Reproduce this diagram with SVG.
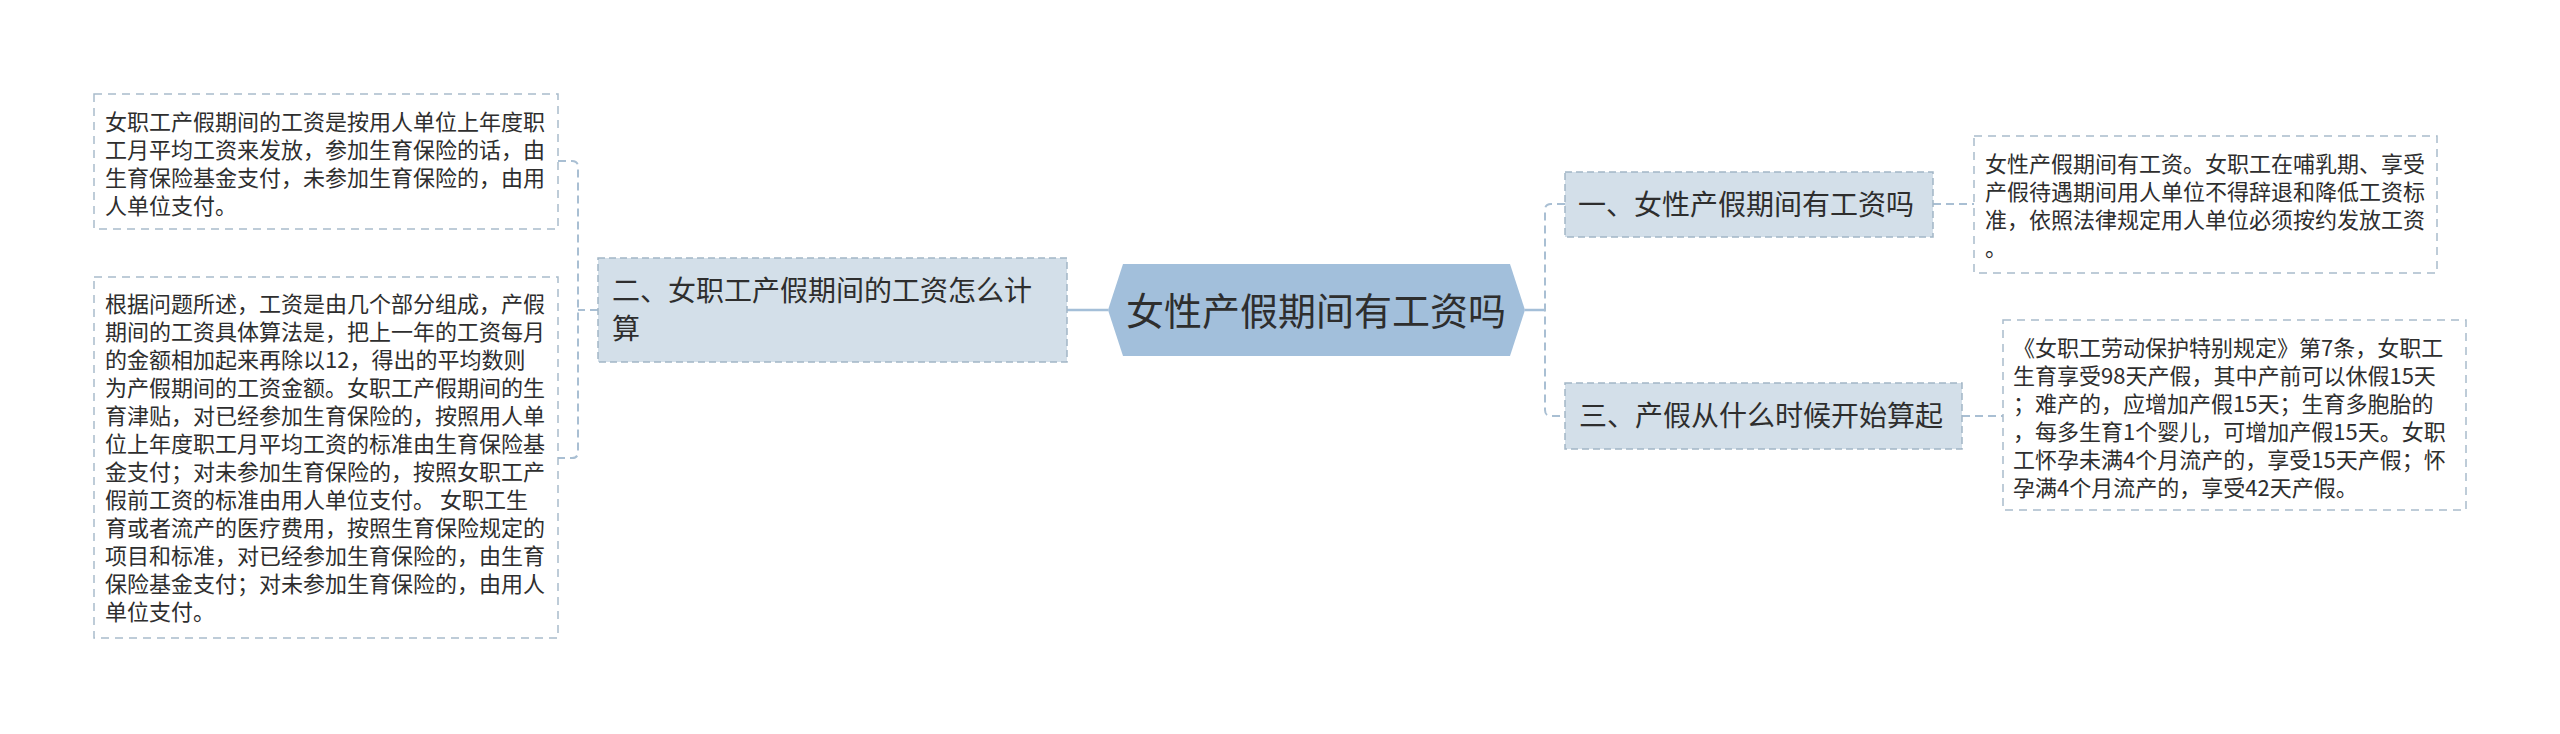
<svg xmlns="http://www.w3.org/2000/svg" width="2560" height="734" viewBox="0 0 2560 734">
<style>
text{font-family:"Noto Sans CJK SC","Microsoft YaHei",sans-serif;fill:#2e2e2e}
.note{fill:#ffffff;stroke:#a9bccb;stroke-width:1.5;stroke-dasharray:8 6}
.topic{fill:#d3dfe9;stroke:#a3b6c6;stroke-width:1.5;stroke-dasharray:7 4}
.t22{font-size:22px}
.t28{font-size:28px}
.t38{font-size:38px}
.solid{fill:none;stroke:#a4bfd8;stroke-width:2.5}
.dash{fill:none;stroke:#a9bfd3;stroke-width:2;stroke-dasharray:8 5}
</style>
<rect width="2560" height="734" fill="#ffffff"/>
<g id="connectors">
<path class="solid" d="M1108 310 H1067"/>
<path class="dash" d="M598 310 H578"/>
<path class="dash" d="M558 161 H572 Q578 161 578 167 V452 Q578 458 572 458 H558"/>
<path class="solid" d="M1525 310 H1545"/>
<path class="dash" d="M1565 204 H1551 Q1545 204 1545 210 V410 Q1545 416 1551 416 H1565"/>
<path class="dash" d="M1933 204 H1974"/>
<path class="dash" d="M1962 416 H2003"/>
</g>
<g id="center">
<polygon points="1108,310 1123,264 1510,264 1525,310 1510,356 1123,356" fill="#a2bfdb"/>
<text class="t38" x="1316" y="325" text-anchor="middle">女性产假期间有工资吗</text>
</g>
<g id="topic2">
<rect class="topic" x="598" y="258" width="469" height="104"/>
<text class="t28" x="612"><tspan x="612" y="301">二、女职工产假期间的工资怎么计</tspan><tspan x="612" y="339">算</tspan></text>
</g>
<g id="topic1">
<rect class="topic" x="1565" y="172" width="368" height="65"/>
<text class="t28" x="1578" y="215">一、女性产假期间有工资吗</text>
</g>
<g id="topic3">
<rect class="topic" x="1565" y="383" width="397" height="66"/>
<text class="t28" x="1579" y="426">三、产假从什么时候开始算起</text>
</g>
<g id="note-left1">
<rect class="note" x="94" y="94" width="464" height="135"/>
<text class="t22"><tspan x="105" y="130">女职工产假期间的工资是按用人单位上年度职</tspan><tspan x="105" y="158">工月平均工资来发放，参加生育保险的话，由</tspan><tspan x="105" y="186">生育保险基金支付，未参加生育保险的，由用</tspan><tspan x="105" y="214">人单位支付。</tspan></text>
</g>
<g id="note-left2">
<rect class="note" x="94" y="277" width="464" height="361"/>
<text class="t22"><tspan x="105" y="312">根据问题所述，工资是由几个部分组成，产假</tspan><tspan x="105" y="340">期间的工资具体算法是，把上一年的工资每月</tspan><tspan x="105" y="368">的金额相加起来再除以12，得出的平均数则</tspan><tspan x="105" y="396">为产假期间的工资金额。女职工产假期间的生</tspan><tspan x="105" y="424">育津贴，对已经参加生育保险的，按照用人单</tspan><tspan x="105" y="452">位上年度职工月平均工资的标准由生育保险基</tspan><tspan x="105" y="480">金支付；对未参加生育保险的，按照女职工产</tspan><tspan x="105" y="508">假前工资的标准由用人单位支付。 女职工生</tspan><tspan x="105" y="536">育或者流产的医疗费用，按照生育保险规定的</tspan><tspan x="105" y="564">项目和标准，对已经参加生育保险的，由生育</tspan><tspan x="105" y="592">保险基金支付；对未参加生育保险的，由用人</tspan><tspan x="105" y="620">单位支付。</tspan></text>
</g>
<g id="note-right1">
<rect class="note" x="1974" y="136" width="463" height="137"/>
<text class="t22"><tspan x="1985" y="172">女性产假期间有工资。女职工在哺乳期、享受</tspan><tspan x="1985" y="200">产假待遇期间用人单位不得辞退和降低工资标</tspan><tspan x="1985" y="228">准，依照法律规定用人单位必须按约发放工资</tspan><tspan x="1985" y="256">。</tspan></text>
</g>
<g id="note-right3">
<rect class="note" x="2003" y="320" width="463" height="190"/>
<text class="t22"><tspan x="2013" y="356">《女职工劳动保护特别规定》第7条，女职工</tspan><tspan x="2013" y="384">生育享受98天产假，其中产前可以休假15天</tspan><tspan x="2013" y="412">；难产的，应增加产假15天；生育多胞胎的</tspan><tspan x="2013" y="440">，每多生育1个婴儿，可增加产假15天。女职</tspan><tspan x="2013" y="468">工怀孕未满4个月流产的，享受15天产假；怀</tspan><tspan x="2013" y="496">孕满4个月流产的，享受42天产假。</tspan></text>
</g>
</svg>
